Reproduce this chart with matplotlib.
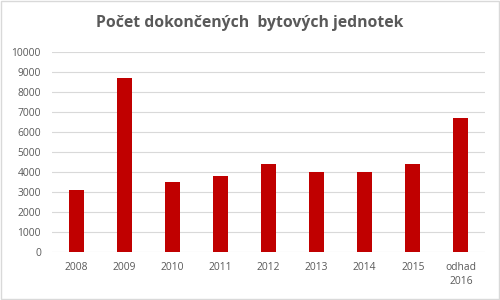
import matplotlib.pyplot as plt
from matplotlib.patches import Rectangle

categories = ['2008', '2009', '2010', '2011', '2012', '2013', '2014', '2015', 'odhad\n2016']
values = [3100, 8700, 3500, 3800, 4400, 4000, 4000, 4400, 6700]
yticks = [0, 1000, 2000, 3000, 4000, 5000, 6000, 7000, 8000, 9000, 10000]

plt.rcParams['font.family'] = ['Open Sans', 'DejaVu Sans']
gray = '#595959'

fig = plt.figure(figsize=(5, 3), dpi=100)
ax = fig.add_axes([0.104, 0.16, 0.866, 0.668])
x = list(range(len(categories)))
ax.bar(x, values, width=0.31, color='#c00000', zorder=3)
ax.set_xlim(-0.5, len(categories) - 0.5)
ax.set_ylim(0, 10000)
ax.set_yticks(yticks)
ax.set_xticks(x)
ax.set_xticklabels(categories, linespacing=1.45)
ax.grid(axis='y', color='#d9d9d9', linewidth=0.8, zorder=0)
for s in ax.spines.values():
    s.set_visible(False)
ax.tick_params(length=0, labelsize=7.4, labelcolor=gray, pad=7)
ax.tick_params(axis='y', pad=8)

fig.text(0.5, 0.922, 'Počet dokončených  bytových jednotek', ha='center', va='center',
         fontsize=11.3, fontweight='bold', color=gray)
fig.patches.append(Rectangle((0.001, 0.002), 0.997, 0.995, transform=fig.transFigure,
                             fill=False, edgecolor='#d9d9d9', linewidth=1))

fig.savefig('out.png', dpi=100)
